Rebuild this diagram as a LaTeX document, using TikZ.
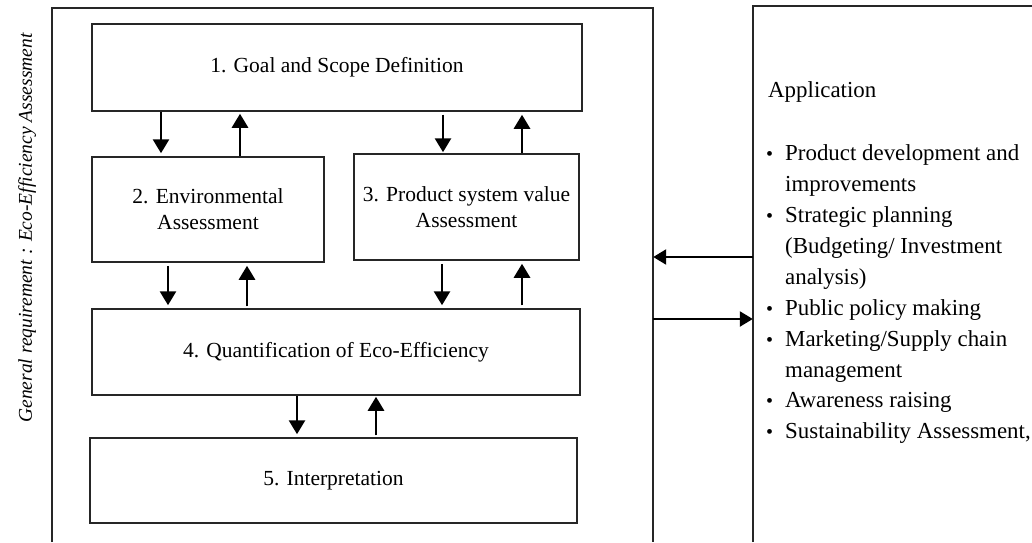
\documentclass[tikz,border=0pt]{standalone}
\usepackage{fontspec}
\setmainfont{Liberation Serif}
\usetikzlibrary{arrows.meta}
\begin{document}
\begin{tikzpicture}[x=1pt,y=1pt,
  stepbox/.style={draw=black!85,line width=1.5pt,minimum width=#1,inner sep=0pt,align=center,
    font=\fontsize{21.5}{26}\selectfont},
  framebox/.style={draw=none,inner sep=0pt},
  arr/.style={line width=2.8pt,draw=black,-{Triangle[width=16pt,length=14pt]}},
  harr/.style={line width=2.3pt,draw=black,-{Triangle[width=15pt,length=13pt]}},
  frameline/.style={draw=black!85,line width=1.5pt},
  listtxt/.style={anchor=base west,inner sep=0pt,font=\fontsize{22.9}{26}\selectfont},
  bul/.style={anchor=base west,inner sep=0pt,font=\fontsize{20}{26}\selectfont}
]
\useasboundingbox (0,0) rectangle (1032,542);
\fill[white] (0,0) rectangle (1032,542);

% frames
\node[framebox,minimum width=601pt,minimum height=534pt] (frameL) at (352.5,267) {};
\node[framebox,minimum width=279pt,minimum height=536pt] (frameR) at (892.5,268) {};
\draw[frameline] (frameL.south west) -- (frameL.north west) -- (frameL.north east) -- (frameL.south east);
\draw[frameline] (frameR.south west) -- (frameR.north west) -- (frameR.north east);

% vertical label
\node[rotate=90,inner sep=0pt,font=\fontsize{19.5}{26}\selectfont\itshape] (gen) at (27,314)
  {General requirement : Eco-Efficiency Assessment};

% boxes
\node[stepbox=490pt,minimum height=87pt] (b1) at (337,474.5) {1. Goal and Scope Definition};
\node[stepbox=232pt,minimum height=105pt] (b2) at (208,332.5) {2. Environmental\\Assessment};
\node[stepbox=225pt,minimum height=106pt] (b3) at (466.5,335) {3. Product system value\\Assessment};
\node[stepbox=488pt,minimum height=86pt] (b4) at (336,190) {4. Quantification of Eco-Efficiency};
\node[stepbox=487pt,minimum height=85pt] (b5) at (333.5,61.5) {5. Interpretation};

% arrow x positions
\coordinate (xa) at (161,0);
\coordinate (xb) at (240,0);
\coordinate (xc) at (443,0);
\coordinate (xd) at (522,0);
\coordinate (xe) at (168,0);
\coordinate (xf) at (247,0);
\coordinate (xg) at (442,0);
\coordinate (xh) at (522,0);
\coordinate (xi) at (297,0);
\coordinate (xj) at (376,0);

\draw[arr,shorten >=3pt] (b1.south -| xa) -- (b2.north -| xa);
\draw[arr,shorten >=2pt] (b2.north -| xb) -- (b1.south -| xb);
\draw[arr,shorten <=3pt,shorten >=1pt] (b1.south -| xc) -- (b3.north -| xc);
\draw[arr,shorten >=3pt] (b3.north -| xd) -- (b1.south -| xd);
\draw[arr,shorten <=3pt,shorten >=3pt] (b2.south -| xe) -- (b4.north -| xe);
\draw[arr,shorten <=2pt,shorten >=3pt] (b4.north -| xf) -- (b2.south -| xf);
\draw[arr,shorten <=3pt,shorten >=3pt] (b3.south -| xg) -- (b4.north -| xg);
\draw[arr,shorten <=3pt,shorten >=3pt] (b4.north -| xh) -- (b3.south -| xh);
\draw[arr,shorten >=3pt] (b4.south -| xi) -- (b5.north -| xi);
\draw[arr,shorten <=2pt,shorten >=1pt] (b5.north -| xj) -- (b4.south -| xj);

% horizontal arrows
\coordinate (ya) at (0,285);
\coordinate (yb) at (0,223);
\draw[harr] (frameR.west |- ya) -- (frameL.east |- ya);
\draw[harr] (frameL.east |- yb) -- (frameR.west |- yb);

% application list
\node[listtxt] (app) at (768,444) {Application};
\node[bul] (u1) at (766,381.3) {•};
\node[listtxt] (l1) at (785,381.3) {Product development and};
\node[listtxt] (l2) at (785,350.3) {improvements};
\node[bul] (u2) at (766,320) {•};
\node[listtxt] (l3) at (785,320) {Strategic planning};
\node[listtxt] (l4) at (785,289) {(Budgeting/ Investment};
\node[listtxt] (l5) at (785,258) {analysis)};
\node[bul] (u3) at (766,227) {•};
\node[listtxt] (l6) at (785,227) {Public policy making};
\node[bul] (u4) at (766,196) {•};
\node[listtxt] (l7) at (785,196) {Marketing/Supply chain};
\node[listtxt] (l8) at (785,165) {management};
\node[bul] (u5) at (766,135) {•};
\node[listtxt] (l9) at (785,135) {Awareness raising};
\node[bul] (u6) at (766,104) {•};
\node[listtxt] (l10) at (785,104) {Sustainability Assessment,};
\end{tikzpicture}
\end{document}
